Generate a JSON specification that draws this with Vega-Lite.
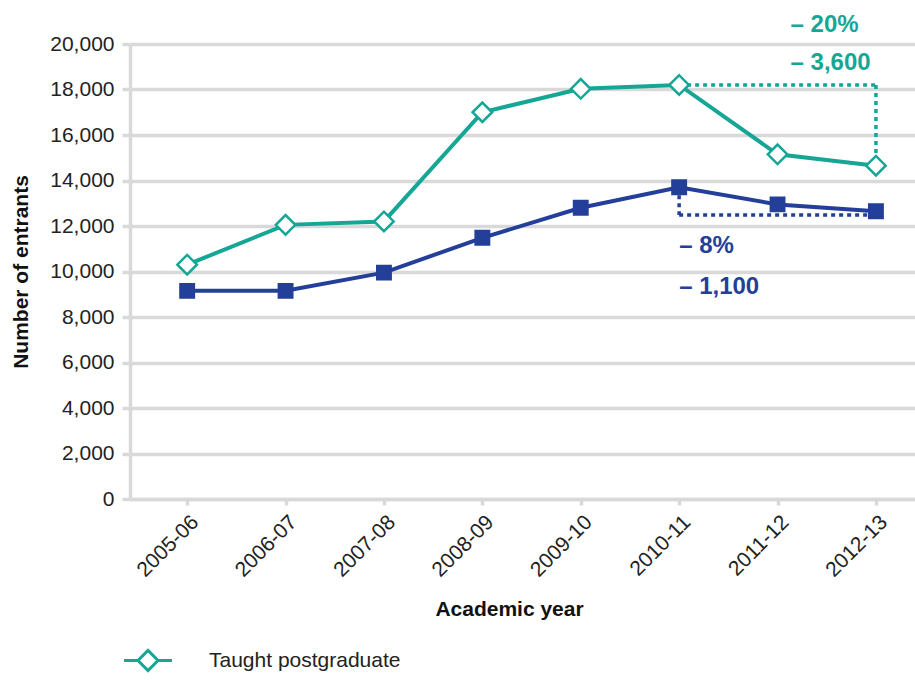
{
  "$schema": "https://vega.github.io/schema/vega-lite/v6.json",
  "width": 785,
  "height": 455,
  "padding": {"left": 10, "top": 12, "right": 0, "bottom": 0},
  "background": "white",
  "config": {
    "font": "Liberation Sans",
    "view": {"stroke": null},
    "axis": {
      "labelFont": "Liberation Sans",
      "titleFont": "Liberation Sans",
      "labelColor": "#222222",
      "titleColor": "#111111",
      "labelFontSize": 21,
      "titleFontSize": 21,
      "titleFontWeight": "bold",
      "domainColor": "#d9d9d9",
      "domainWidth": 3.5,
      "tickColor": "#d9d9d9",
      "tickWidth": 3.5,
      "gridColor": "#d9d9d9",
      "gridWidth": 3.5
    },
    "legend": {"labelFont": "Liberation Sans"}
  },
  "datasets": {
    "main": [
      {"year": "2005-06", "series": "Taught postgraduate", "value": 10300},
      {"year": "2006-07", "series": "Taught postgraduate", "value": 12050},
      {"year": "2007-08", "series": "Taught postgraduate", "value": 12200},
      {"year": "2008-09", "series": "Taught postgraduate", "value": 17000},
      {"year": "2009-10", "series": "Taught postgraduate", "value": 18030},
      {"year": "2010-11", "series": "Taught postgraduate", "value": 18200},
      {"year": "2011-12", "series": "Taught postgraduate", "value": 15150},
      {"year": "2012-13", "series": "Taught postgraduate", "value": 14650},
      {"year": "2005-06", "series": "Undergraduate", "value": 9150},
      {"year": "2006-07", "series": "Undergraduate", "value": 9150},
      {"year": "2007-08", "series": "Undergraduate", "value": 9950},
      {"year": "2008-09", "series": "Undergraduate", "value": 11480},
      {"year": "2009-10", "series": "Undergraduate", "value": 12800},
      {"year": "2010-11", "series": "Undergraduate", "value": 13700},
      {"year": "2011-12", "series": "Undergraduate", "value": 12950},
      {"year": "2012-13", "series": "Undergraduate", "value": 12650}
    ],
    "guides": [
      {"seg": "tp-h", "series": "Taught postgraduate", "year": "2010-11", "value": 18200},
      {"seg": "tp-h", "series": "Taught postgraduate", "year": "2012-13", "value": 18200},
      {"seg": "tp-v", "series": "Taught postgraduate", "year": "2012-13", "value": 18200},
      {"seg": "tp-v", "series": "Taught postgraduate", "year": "2012-13", "value": 14650},
      {"seg": "ug-v", "series": "Undergraduate", "year": "2010-11", "value": 13700},
      {"seg": "ug-v", "series": "Undergraduate", "year": "2010-11", "value": 12480},
      {"seg": "ug-h", "series": "Undergraduate", "year": "2010-11", "value": 12480},
      {"seg": "ug-h", "series": "Undergraduate", "year": "2012-13", "value": 12480}
    ],
    "notes": [
      {"series": "Taught postgraduate", "year": "2011-12", "value": 20840, "label": "– 20%"},
      {"series": "Taught postgraduate", "year": "2011-12", "value": 19170, "label": "– 3,600"},
      {"series": "Undergraduate", "year": "2010-11", "value": 11110, "label": "– 8%"},
      {"series": "Undergraduate", "year": "2010-11", "value": 9310, "label": "– 1,100"}
    ]
  },
  "encoding": {
    "x": {
      "field": "year",
      "type": "ordinal",
      "scale": {"type": "point", "padding": 0.489, "align": 0.594},
      "axis": {
        "title": "Academic year",
        "labelAngle": -45,
        "tickSize": 6,
        "labelPadding": 6,
        "titlePadding": 18,
        "titleX": 379,
        "grid": false
      }
    },
    "y": {
      "field": "value",
      "type": "quantitative",
      "scale": {"domain": [0, 20000], "nice": false, "zero": true},
      "axis": {
        "title": "Number of entrants",
        "values": [0, 2000, 4000, 6000, 8000, 10000, 12000, 14000, 16000, 18000, 20000],
        "format": ",d",
        "tickSize": 8,
        "labelPadding": 8,
        "titlePadding": 18,
        "grid": true
      }
    }
  },
  "layer": [
    {
      "data": {"name": "guides"},
      "mark": {"type": "line", "strokeWidth": 3.5, "strokeDash": [4, 4]},
      "encoding": {
        "detail": {"field": "seg"},
        "stroke": {"field": "series", "type": "nominal"}
      }
    },
    {
      "data": {"name": "main"},
      "mark": {"type": "line", "strokeWidth": 4},
      "encoding": {
        "stroke": {
          "field": "series",
          "type": "nominal",
          "scale": {"domain": ["Taught postgraduate", "Undergraduate"], "range": ["#16a696", "#233f99"]},
          "legend": {
            "title": null,
            "orient": "none",
            "legendX": -7.5,
            "legendY": 591,
            "direction": "vertical",
            "symbolSize": 2304,
            "symbolStrokeWidth": 3,
            "labelFontSize": 21,
            "labelColor": "#222222",
            "labelOffset": 35.5,
            "labelLimit": 0,
            "rowPadding": 6,
            "encode": {
              "symbols": {
                "update": {
                  "shape": {"signal": "datum.value === 'Taught postgraduate' ? 'M-1,0L-0.42,0L0,-0.42L0.42,0L1,0L0.42,0L0,0.42L-0.42,0Z' : 'M-1,0L-0.27,0L-0.27,-0.27L0.27,-0.27L0.27,0L1,0L0.27,0L0.27,0.27L-0.27,0.27L-0.27,0Z'"},
                  "fill": {"signal": "datum.value === 'Taught postgraduate' ? '#ffffff' : '#233f99'"}
                }
              }
            }
          }
        }
      }
    },
    {
      "data": {"name": "main"},
      "mark": {"type": "point", "filled": false, "strokeWidth": 2.5, "opacity": 1},
      "encoding": {
        "shape": {
          "field": "series",
          "type": "nominal",
          "scale": {"range": ["diamond", "square"]},
          "legend": null
        },
        "color": {
          "field": "series",
          "type": "nominal",
          "scale": {"range": ["#16a696", "#233f99"]},
          "legend": null
        },
        "fill": {
          "field": "series",
          "type": "nominal",
          "scale": {"range": ["#ffffff", "#233f99"]},
          "legend": null
        },
        "size": {
          "field": "series",
          "type": "nominal",
          "scale": {"range": [380, 180]},
          "legend": null
        }
      }
    },
    {
      "data": {"name": "notes"},
      "transform": [{"filter": "datum.series === 'Taught postgraduate'"}],
      "mark": {"type": "text", "align": "left", "baseline": "middle", "dx": 13, "fontSize": 24, "fontWeight": "bold", "color": "#16a696"},
      "encoding": {"text": {"field": "label"}}
    },
    {
      "data": {"name": "notes"},
      "transform": [{"filter": "datum.series === 'Undergraduate'"}],
      "mark": {"type": "text", "align": "left", "baseline": "middle", "dx": 0, "fontSize": 24, "fontWeight": "bold", "color": "#233f99"},
      "encoding": {"text": {"field": "label"}}
    }
  ]
}
